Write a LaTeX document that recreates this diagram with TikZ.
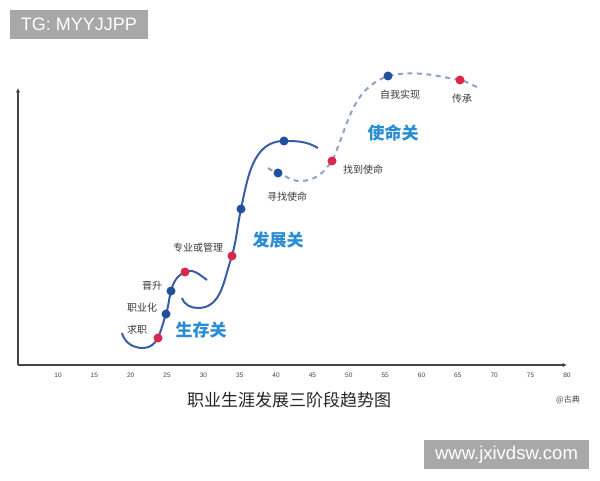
\documentclass[tikz,border=0pt]{standalone}
\usepackage{fontspec}
\setmainfont{Liberation Sans}
\newfontfamily\cjk{Noto Sans CJK SC}
\usetikzlibrary{arrows.meta}

\definecolor{axisgray}{HTML}{444444}
\definecolor{curveblue}{HTML}{3A5DA6}
\definecolor{dashblue}{HTML}{8DA4C8}
\definecolor{dotblue}{HTML}{23509D}
\definecolor{dotred}{HTML}{D6294B}
\definecolor{labelgray}{HTML}{3A3A3A}
\definecolor{stageblue}{HTML}{2A8CD3}
\definecolor{wmgray}{HTML}{A8A8A8}

\begin{document}
\begin{tikzpicture}[x=1pt, y=1pt,
    axis/.style={draw=axisgray, line width=1.6pt},
    solidline/.style={draw=curveblue, line width=2pt},
    dashline/.style={draw=dashblue, line width=2pt, dash pattern=on 5pt off 4.5pt},
    bluedot/.style={circle, fill=dotblue, inner sep=0pt, minimum size=9pt},
    reddot/.style={circle, fill=dotred, inner sep=0pt, minimum size=9pt},
    tag/.style={font=\cjk\fontsize{10}{12}\selectfont, text=labelgray},
    stage/.style={font=\cjk\bfseries\fontsize{17}{20}\selectfont, text=stageblue},
    ticklabel/.style={font=\fontsize{6.5}{8}\selectfont, text=axisgray},
    wmbox/.style={fill=wmgray, text=white, inner sep=0pt, minimum height=29pt}]
  \useasboundingbox[fill=white] (0,0) rectangle (600,480);

  % axes
  \coordinate (O) at (18,115);
  \coordinate (ytop) at (18,392);
  \coordinate (xend) at (567,115);
  \draw[axis, -{Latex[length=4.5pt,width=4.5pt]}] (O) -- (ytop);
  \draw[axis, -{Latex[length=4.5pt,width=4.5pt]}] (O) -- (xend);
  \foreach \a in {10,15,...,80}
    \node[ticklabel] (t\a) at ({58+(\a-10)*7.27},105) {\a};

  % points on the curves
  \coordinate (s1) at (122,147);
  \coordinate (b1) at (143,132);
  \coordinate (q1) at (158,142);
  \coordinate (z1) at (166,166);
  \coordinate (j1) at (171,189);
  \coordinate (m1) at (185,208);
  \coordinate (e1) at (207,200);

  \coordinate (s2) at (182,182);
  \coordinate (b2) at (198,172);
  \coordinate (g2) at (232,224);
  \coordinate (f2) at (241,271);
  \coordinate (t2) at (284,339);
  \coordinate (e2) at (318,332);

  \coordinate (s3) at (268,312);
  \coordinate (x3) at (278,307);
  \coordinate (b3) at (300,299);
  \coordinate (d3) at (332,319);
  \coordinate (z3) at (388,404);
  \coordinate (c3) at (460,400);
  \coordinate (e3) at (477,393);

  % curves
  \draw[solidline] (s1) to[out=-75,in=180] (b1) to[out=0,in=240] (q1)
    to[out=68,in=252] (z1) to[out=72,in=255] (j1) to[out=75,in=205] (m1)
    to[out=25,in=145] (e1);
  \draw[solidline] (s2) to[out=-70,in=180] (b2) to[out=0,in=250] (g2)
    to[out=75,in=258] (f2) to[out=78,in=180] (t2) to[out=0,in=150] (e2);
  \draw[dashline] (s3) to[out=-35,in=160] (x3) to[out=-20,in=180] (b3)
    to[out=0,in=235] (d3) to[out=65,in=200] (z3) to[out=12,in=170] (c3)
    to[out=-10,in=160] (e3);

  % dots
  \node[reddot] (qiuzhi) at (q1) {};
  \node[bluedot] (zhiye) at (z1) {};
  \node[bluedot] (jinsheng) at (j1) {};
  \node[reddot] (guanli) at (m1) {};
  \node[reddot] (zhuanye) at (g2) {};
  \node[bluedot] (mid2) at (f2) {};
  \node[bluedot] (top2) at (t2) {};
  \node[bluedot] (xunzhao) at (x3) {};
  \node[reddot] (zhaodao) at (d3) {};
  \node[bluedot] (ziwo) at (z3) {};
  \node[reddot] (chuancheng) at (c3) {};

  % labels
  \node[tag] (l1) at (137,150) {求职};
  \node[tag] (l2) at (142,172) {职业化};
  \node[tag] (l3) at (152,194) {晋升};
  \node[tag] (l4) at (198,232) {专业或管理};
  \node[tag] (l5) at (287,283) {寻找使命};
  \node[tag] (l6) at (363,310) {找到使命};
  \node[tag] (l7) at (400,385) {自我实现};
  \node[tag] (l8) at (462,381) {传承};

  \node[stage] (st1) at (201,150) {生存关};
  \node[stage] (st2) at (278,240) {发展关};
  \node[stage] (st3) at (393,347) {使命关};

  % title and marks
  \node[font=\cjk\fontsize{17}{20}\selectfont, text=black!85] (title) at (289,80) {职业生涯发展三阶段趋势图};
  \node[font=\cjk\fontsize{8}{10}\selectfont, text=axisgray] (sign) at (568,80) {@古典};
  \node[wmbox, minimum width=138pt, font=\fontsize{18}{20}\selectfont] (tg) at (79,455.5) {TG: MYYJJPP};
  \node[wmbox, minimum width=165pt, font=\fontsize{18.5}{20}\selectfont] (www) at (506.5,25.5) {www.jxivdsw.com};
\end{tikzpicture}
\end{document}
